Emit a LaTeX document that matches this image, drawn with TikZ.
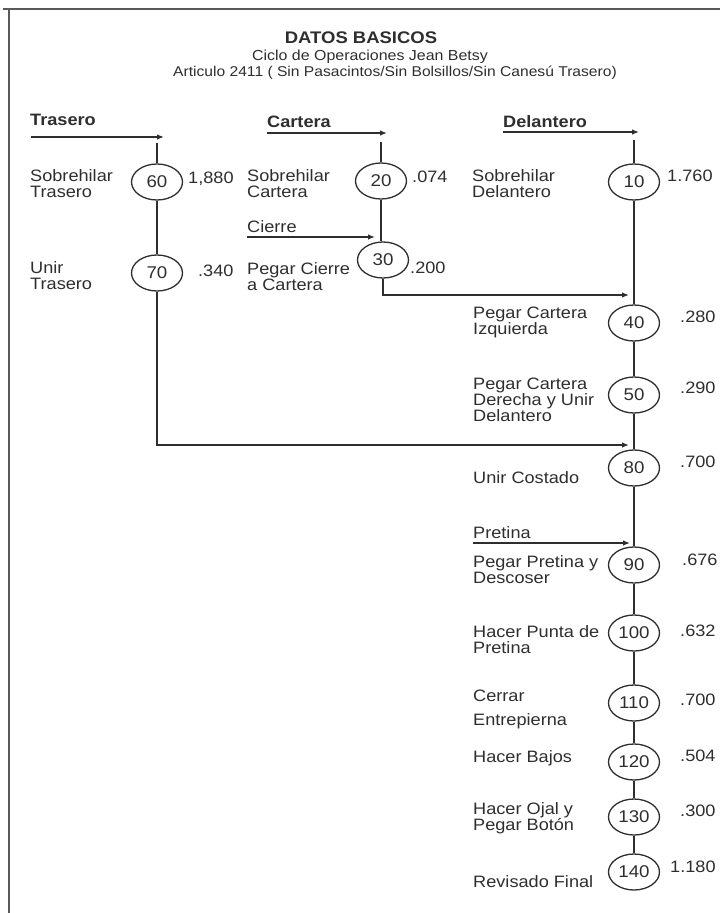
\documentclass[tikz,border=0pt]{standalone}
\usepackage{fontspec}
\setmainfont{Liberation Sans}[FakeStretch=1.1]
\usetikzlibrary{arrows.meta,shapes.geometric}
\definecolor{ink}{HTML}{2E2E2E}
\definecolor{frame}{HTML}{5A5A5A}
\begin{document}
\begin{tikzpicture}[x=1pt,y=-1pt,
  every node/.style={text=ink},
  lbl/.style={font=\fontsize{16.5}{16}\selectfont, align=left, anchor=north west, inner sep=0pt, yshift=13pt, execute at begin node={\rule{0pt}{13pt}}},
  hdr/.style={font=\fontsize{16.5}{16.5}\selectfont\bfseries, anchor=base west, inner sep=0pt},
  val/.style={font=\fontsize{16.5}{16.5}\selectfont, anchor=base west, inner sep=0pt},
  op/.style={draw=ink, ellipse, line width=1.3pt, minimum width=51pt, minimum height=36pt, inner sep=0pt, font=\fontsize{17}{17}\selectfont},
  conn/.style={draw=ink, line width=1.3pt},
  arr/.style={conn, -{Latex[length=7pt,width=5.5pt]}},
  frm/.style={draw=frame, line width=2.6pt}
]
\useasboundingbox (0,0) rectangle (720,913);
% frame
\coordinate (fa) at (3,9);
\coordinate (fb) at (720,9);
\coordinate (fc) at (9,8);
\coordinate (fd) at (9,913);
\draw[frm] (fa) -- (fb);
\draw[frm] (fc) -- (fd);

% title
\node[font=\fontsize{16.8}{16.8}\selectfont\bfseries, anchor=base, inner sep=0pt] (title) at (361,43) {DATOS BASICOS};
\node[font=\fontsize{14.5}{14.5}\selectfont, anchor=base, inner sep=0pt] (sub1) at (370,60) {Ciclo de Operaciones Jean Betsy};
\node[font=\fontsize{14.2}{14.2}\selectfont, anchor=base, inner sep=0pt] (sub2) at (395,76) {Articulo 2411 ( Sin Pasacintos/Sin Bolsillos/Sin Canesú Trasero)};

% headers
\node[hdr] (hT) at (30,125) {Trasero};
\node[hdr] (hC) at (267,127) {Cartera};
\node[hdr] (hD) at (503,127) {Delantero};

% operations
\node[op] (e60) at (157,182) {60};
\node[op] (e70) at (157,273) {70};
\node[op] (e20) at (381,181) {20};
\node[op] (e30) at (383,260) {30};
\node[op] (e10) at (634,182) {10};
\node[op] (e40) at (634,323) {40};
\node[op] (e50) at (634,395) {50};
\node[op] (e80) at (634,468) {80};
\node[op] (e90) at (634,565) {90};
\node[op] (e100) at (634,633) {100};
\node[op] (e110) at (634,703) {110};
\node[op] (e120) at (634,762) {120};
\node[op] (e130) at (634,817) {130};
\node[op] (e140) at (634,872) {140};

% labels (position = baseline of first line)
\node[lbl] (l60) at (30,182) {Sobrehilar\\Trasero};
\node[lbl] (l70) at (30,274) {Unir\\Trasero};
\node[lbl] (l20) at (247,182) {Sobrehilar\\Cartera};
\node[lbl] (lci) at (247,232) {Cierre};
\node[lbl] (l30) at (247,275) {Pegar Cierre\\a Cartera};
\node[lbl] (l10) at (472,182) {Sobrehilar\\Delantero};
\node[lbl] (l40) at (473,320) {Pegar Cartera\\Izquierda};
\node[lbl] (l50) at (473,391) {Pegar Cartera\\Derecha y Unir\\Delantero};
\node[lbl] (l80) at (473,483) {Unir Costado};
\node[lbl] (lpr) at (473,538) {Pretina};
\node[lbl] (l90) at (473,568) {Pegar Pretina y\\Descoser};
\node[lbl] (l100) at (473,638) {Hacer Punta de\\Pretina};
\node[lbl] (l110) at (473,703) {Cerrar\\[8pt]Entrepierna};
\node[lbl] (l120) at (473,762) {Hacer Bajos};
\node[lbl] (l130) at (473,815) {Hacer Ojal y\\Pegar Botón};
\node[lbl] (l140) at (473,887) {Revisado Final};

% values
\node[val] (v60) at (188,183) {1,880};
\node[val] (v70) at (198,276) {.340};
\node[val] (v20) at (412,182) {.074};
\node[val] (v30) at (410,273) {.200};
\node[val] (v10) at (667,181) {1.760};
\node[val] (v40) at (680,322) {.280};
\node[val] (v50) at (680,393) {.290};
\node[val] (v80) at (680,467) {.700};
\node[val] (v90) at (682,565) {.676};
\node[val] (v100) at (680,636) {.632};
\node[val] (v110) at (680,705) {.700};
\node[val] (v120) at (680,761) {.504};
\node[val] (v130) at (680,816) {.300};
\node[val] (v140) at (670,872) {1.180};

% coordinates for connector ends
\coordinate (aT0) at (31,137);
\coordinate (aT1) at (164,137);
\coordinate (vT) at (157,143);
\coordinate (aC0) at (267,133);
\coordinate (aC1) at (387,133);
\coordinate (vC) at (381,142);
\coordinate (aCi0) at (247,237);
\coordinate (aCi1) at (375,237);
\coordinate (aD0) at (503,132);
\coordinate (aD1) at (639,132);
\coordinate (vD) at (634,140);
\coordinate (in40) at (629,295);
\coordinate (in80) at (629,445);
\coordinate (aP0) at (473,543);
\coordinate (aP1) at (630,543);

% Trasero
\draw[arr] (aT0) -- (aT1);
\draw[conn] (vT) -- (e60);
\draw[conn] (e60) -- (e70);
\draw[arr] (e70.south) |- (in80);
% Cartera
\draw[arr] (aC0) -- (aC1);
\draw[conn] (vC) -- (e20);
\draw[conn] (e20.south) -- (e20.south |- e30.north);
\draw[arr] (aCi0) -- (aCi1);
\draw[arr] (e30.south) |- (in40);
% Delantero
\draw[arr] (aD0) -- (aD1);
\draw[conn] (vD) -- (e10);
\draw[conn] (e10) -- (e40);
\draw[conn] (e40) -- (e50);
\draw[conn] (e50) -- (e80);
\draw[conn] (e80) -- (e90);
\draw[arr] (aP0) -- (aP1);
\draw[conn] (e90) -- (e100);
\draw[conn] (e100) -- (e110);
\draw[conn] (e110) -- (e120);
\draw[conn] (e120) -- (e130);
\draw[conn] (e130) -- (e140);
\end{tikzpicture}
\end{document}
